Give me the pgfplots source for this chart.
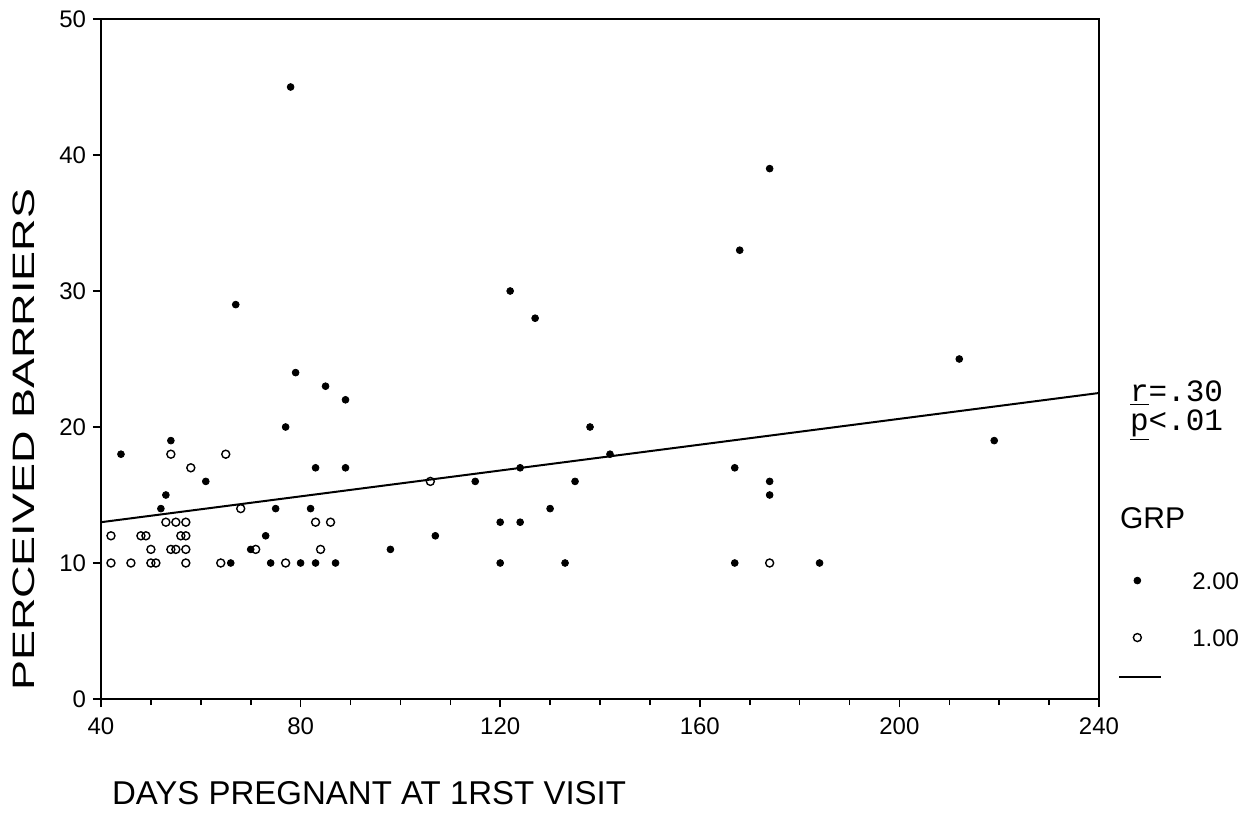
\documentclass[border=0pt]{standalone}
\usepackage{fontspec}
\setmainfont{Liberation Sans}
\newfontfamily\monofont{Liberation Mono}
\newfontfamily\widefont[FakeStretch=1.45]{Liberation Sans}
\usepackage{pgfplots}
\pgfplotsset{compat=1.18}
\pgfplotsset{
  marklegend/.style={legend image code/.code={\draw[mark repeat=2,mark phase=2,##1] plot coordinates {(0bp,0bp) (9bp,0bp) (18bp,0bp)}; \path (20bp,0bp);}},
  linelegend/.style={legend image code/.code={\pgfinterruptboundingbox\draw[##1] (0bp,9bp) -- (21bp,9bp);\endpgfinterruptboundingbox \path (0bp,0bp) (20bp,0bp);}},
}
\begin{document}
\begin{tikzpicture}
\useasboundingbox (0,0) rectangle (625.5bp,406.5bp);
\begin{axis}[
  at={(50.5bp,57bp)}, anchor=south west,
  width=499bp, height=340bp, scale only axis,
  xmin=40, xmax=240, ymin=0, ymax=50,
  xtick={40,80,...,240}, minor x tick num=3,
  ytick={0,10,...,50},
  xtick pos=bottom, ytick pos=left, tick align=outside,
  major tick length=4bp, minor tick length=3bp,
  axis line style={line width=0.9bp},
  tick style={line width=0.8bp, black},
  tick label style={font=\fontsize{12bp}{14bp}\selectfont},
  /pgf/number format/assume math mode=true,
  xticklabel style={yshift=-2bp},
  xlabel={DAYS PREGNANT AT 1RST VISIT},
  xlabel style={at={(axis description cs:0.004,0)}, anchor=west, yshift=-47bp, font=\fontsize{16.5bp}{18bp}\selectfont},
  ylabel={PERCEIVED BARRIERS},
  ylabel style={at={(axis description cs:-0.077,0.381)}, anchor=center, font=\widefont\fontsize{15.5bp}{18bp}\selectfont},
  clip=false,
  legend style={at={(axis description cs:1.019,0.188)}, anchor=north west, draw=none, fill=none,
    font=\fontsize{12bp}{14bp}\selectfont, row sep=19.5bp, column sep=16bp, inner sep=0pt,
    nodes={inner sep=0pt, text height=9bp, text depth=0bp}},
  legend cell align=left,
]
\addplot[only marks, mark=*, mark size=1.7bp, black, marklegend]
coordinates {
(44,18) (54,19) (53,15) (52,14) (61,16) (79,24) (85,23) (89,22) (77,20) (83,17) (89,17)
(75,14) (82,14) (73,12) (70,11) (66,10) (74,10) (80,10) (83,10) (87,10) (78,45) (67,29)
(98,11) (107,12) (115,16) (120,13) (124,13) (120,10) (133,10) (122,30) (127,28) (124,17)
(130,14) (135,16) (138,20) (142,18) (167,17) (174,16) (174,15) (167,10) (184,10) (168,33)
(174,39) (212,25) (219,19)
};
\addlegendentry{2.00}
\addplot[only marks, mark=o, mark size=2bp, black, mark options={line width=0.7bp}, marklegend]
coordinates {
(42,10) (46,10) (50,10) (51,10) (57,10) (64,10) (77,10) (174,10)
(50,11) (54,11) (55,11) (57,11) (71,11) (84,11)
(42,12) (48,12) (49,12) (56,12) (57,12)
(53,13) (55,13) (57,13) (83,13) (86,13)
(68,14) (106,16) (58,17) (54,18) (65,18)
};
\addlegendentry{1.00}
\addplot[black, line width=1bp, linelegend]
coordinates {(40,13.0) (240,22.5)};
\addlegendentry{}
\node[anchor=west, font=\monofont\fontsize{15.5bp}{16bp}\selectfont] at (axis description cs:1.024,0.450) {\underline{r}=.30};
\node[anchor=west, font=\monofont\fontsize{15.5bp}{16bp}\selectfont] at (axis description cs:1.024,0.403) {\underline{p}<.01};
\node[anchor=west, font=\fontsize{15bp}{16bp}\selectfont] at (axis description cs:1.014,0.266) {GRP};
\end{axis}
\end{tikzpicture}
\end{document}
